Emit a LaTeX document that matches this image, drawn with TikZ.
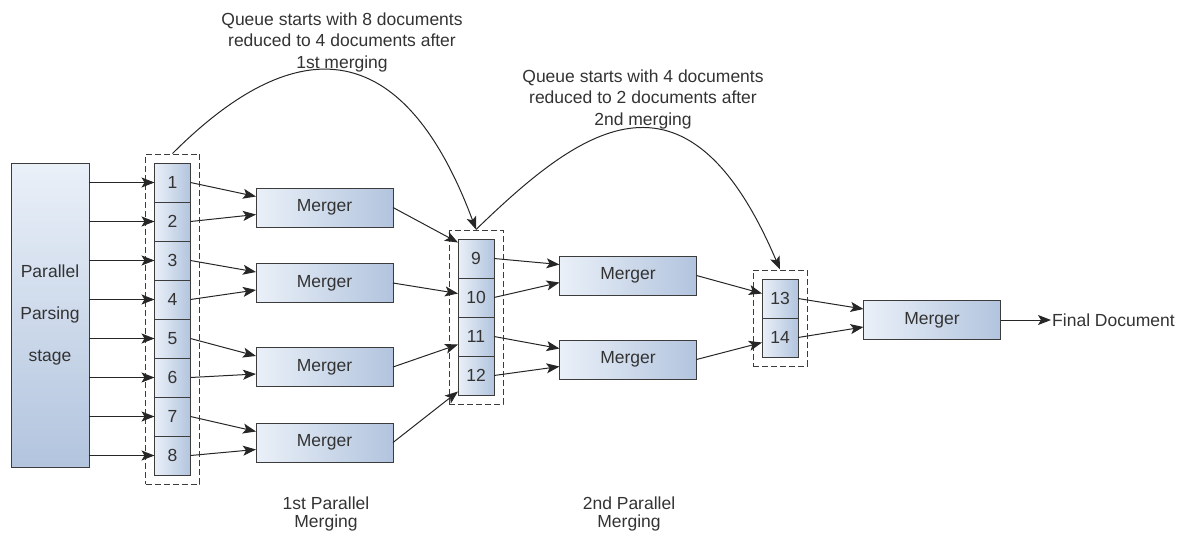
\documentclass[tikz,border=0pt]{standalone}
\usepackage{fontspec}
\setmainfont{Liberation Sans}
\usetikzlibrary{arrows.meta,positioning,fit}
\definecolor{boxlight}{HTML}{EAF0F8}
\definecolor{boxdark}{HTML}{B2C4DE}
\definecolor{boxedge}{HTML}{3C3C3C}
\definecolor{inktext}{HTML}{333333}
\tikzset{
  base/.style = {draw=boxedge, line width=1pt, text=inktext, inner sep=0pt, outer sep=0pt, font=\fontsize{17.5}{21}\selectfont},
  merger/.style = {base, left color=boxlight, right color=boxdark, minimum width=137pt, minimum height=39pt},
  slot/.style = {base, left color=boxlight, right color=boxdark, minimum width=36pt, minimum height=39pt},
  parser/.style = {base, top color=boxlight, bottom color=boxdark, minimum width=78pt, minimum height=304pt, align=center, font=\fontsize{17.5}{42}\selectfont},
  queue/.style = {draw=boxedge, line width=1pt, dash pattern=on 6pt off 3pt, inner sep=9pt},
  note/.style = {align=center, text=inktext, font=\fontsize{17.5}{21.5}\selectfont},
  stagenote/.style = {note, font=\fontsize{17.5}{18.5}\selectfont},
  >={Stealth[length=13pt,width=10pt,inset=3pt]},
  flow/.style = {->, draw=black!85, line width=1pt}
}

\begin{document}
\begin{tikzpicture}[x=1pt,y=-1pt]
  \useasboundingbox (0,0) rectangle (1183,536);

  \node[parser] (parse) at (50,315) {Parallel\\Parsing\\stage};

  \node[slot] (c1) at (172.5,182.5) {1};
  \foreach \i [count=\j] in {2,...,8}
    \node[slot, below=0pt of c\j] (c\i) {\i};
  \node[queue, fit=(c1)(c8)] (q1) {};

  \node[merger] (m1) at (324.5,207.5) {Merger};
  \node[merger] (m2) at (324.5,283) {Merger};
  \node[merger] (m3) at (324.5,367) {Merger};
  \node[merger] (m4) at (324.5,442.5) {Merger};

  \node[slot] (c9) at (476,258.5) {9};
  \foreach \i [count=\j from 9] in {10,...,12}
    \node[slot, below=0pt of c\j] (c\i) {\i};
  \node[queue, fit=(c9)(c12)] (q2) {};

  \node[merger] (ma) at (628,275.5) {Merger};
  \node[merger] (mb) at (628,359.5) {Merger};

  \node[slot] (c13) at (780,298.5) {13};
  \node[slot, below=0pt of c13] (c14) {14};
  \node[queue, fit=(c13)(c14)] (q3) {};

  \node[merger] (mf) at (932,320) {Merger};
  \node[note, anchor=west, inner sep=1pt] (final) at (1051,320) {Final Document};

  \node[note] (lab1) at (342,42) {Queue starts with 8 documents\\reduced to 4 documents after\\1st merging};
  \node[note] (lab2) at (643,99) {Queue starts with 4 documents\\reduced to 2 documents after\\2nd merging};
  \node[stagenote] (stage1) at (326,514) {1st Parallel\\Merging};
  \node[stagenote] (stage2) at (629,514) {2nd Parallel\\Merging};

  \foreach \i in {1,...,8}
    \draw[flow] (c\i.west -| parse.east) -- (c\i.west);

  \foreach \a/\b/\m in {1/2/m1, 3/4/m2, 5/6/m3, 7/8/m4, 9/10/ma, 11/12/mb, 13/14/mf} {
    \draw[flow] (c\a.east) -- ([yshift=11pt]\m.west);
    \draw[flow] (c\b.east) -- ([yshift=-7pt]\m.west);
  }

  \draw[flow] (m1.east) -- ([yshift=16pt]c9.west);
  \draw[flow] (m2.east) -- ([yshift=4pt]c10.west);
  \draw[flow] (m3.east) -- ([yshift=-8pt]c11.west);
  \draw[flow] (m4.east) -- ([yshift=-16pt]c12.west);
  \draw[flow] (ma.east) -- ([yshift=5pt]c13.west);
  \draw[flow] (mb.east) -- ([yshift=-5pt]c14.west);
  \draw[flow] (mf.east) -- (final.west);

  \draw[flow] (q1.north) .. controls (252,74) and (385,-14) .. (q2.north);
  \draw[flow] (q2.north) .. controls (576,133) and (685,46) .. (q3.north);
\end{tikzpicture}
\end{document}
